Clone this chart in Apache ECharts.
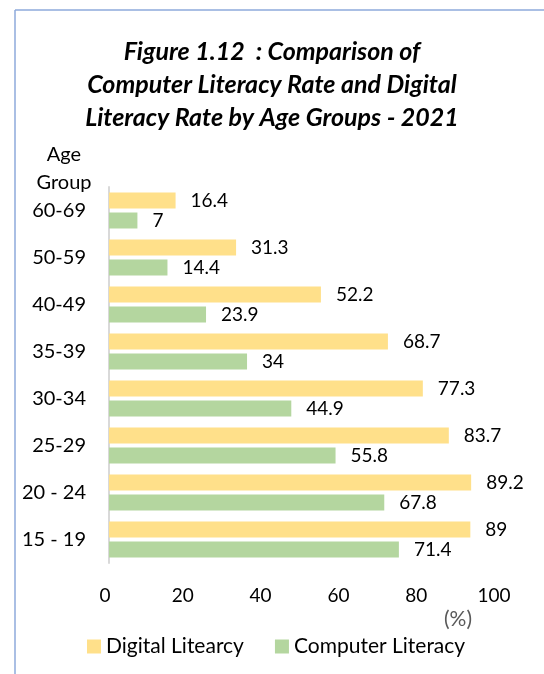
<!DOCTYPE html>
<html>
<head>
<meta charset="utf-8">
<script src="https://cdn.jsdelivr.net/npm/echarts@6/dist/echarts.min.js"></script>
<style>
  html, body { margin: 0; padding: 0; background: #fff; }
</style>
</head>
<body>
<div id="chart" style="width: 544px;height:674px;"></div>
<script>
// age groups, bottom to top
var ageGroups = ['15 - 19', '20 - 24', '25-29', '30-34', '35-39', '40-49', '50-59', '60-69'];
var digitalLiteracy = [89, 89.2, 83.7, 77.3, 68.7, 52.2, 31.3, 16.4];
var computerLiteracy = [71.4, 67.8, 55.8, 44.9, 34, 23.9, 14.4, 7];
var xTicks = [0, 20, 40, 60, 80, 100];

var font = 'Lato, "Noto Sans", sans-serif';
var myChart = echarts.init(document.getElementById('chart'));

myChart.setOption({
  textStyle: { fontFamily: font },
  title: {
    text: 'Figure 1.12  : Comparison of\nComputer Literacy Rate and Digital\nLiteracy Rate by Age Groups - 2021',
    left: 'center',
    top: 30,
    textStyle: {
      fontFamily: font,
      fontSize: 25,
      fontStyle: 'italic',
      fontWeight: 'bold',
      color: '#000',
      lineHeight: 33
    }
  },
  legend: {
    left: 82,
    top: 631,
    icon: 'rect',
    itemWidth: 14,
    itemHeight: 14,
    itemGap: 31,
    textStyle: { fontFamily: font, fontSize: 21, color: '#000' },
    data: ['Digital Litearcy', 'Computer Literacy']
  },
  grid: [
    { left: 109, right: 29, top: 187, bottom: 111 },
    // tick labels in the original sit on a slightly narrower span than the bars
    { left: 105, right: 50, top: 187, bottom: 111 }
  ],
  xAxis: [
    {
      type: 'value',
      gridIndex: 0,
      min: xTicks[0],
      max: xTicks[xTicks.length - 1],
      interval: 20,
      axisLine: { show: false },
      axisTick: { show: false },
      splitLine: { show: false },
      axisLabel: { show: false }
    },
    {
      type: 'value',
      gridIndex: 1,
      min: xTicks[0],
      max: xTicks[xTicks.length - 1],
      interval: 20,
      axisLine: { show: false },
      axisTick: { show: false },
      splitLine: { show: false },
      axisLabel: { fontFamily: font, fontSize: 19, color: '#000', margin: 23 }
    }
  ],
  yAxis: [
    {
      type: 'category',
      gridIndex: 0,
      data: ageGroups,
      name: 'Age\nGroup',
      nameLocation: 'end',
      nameGap: -10,
      nameTextStyle: {
        fontFamily: font,
        fontSize: 20,
        color: '#000',
        align: 'center',
        verticalAlign: 'bottom',
        lineHeight: 28,
        padding: [0, 90, 0, 0]
      },
      axisLine: { show: true, lineStyle: { color: '#d9d9d9', width: 2 } },
      axisTick: { show: false },
      axisLabel: { fontFamily: font, fontSize: 20, color: '#000', margin: 23 }
    },
    {
      type: 'category',
      gridIndex: 1,
      data: ageGroups,
      show: false
    }
  ],
  graphic: [
    { type: 'line', shape: { x1: 15, y1: 10, x2: 544, y2: 10 }, style: { stroke: '#8eaadb', lineWidth: 1.5 } },
    { type: 'line', shape: { x1: 15, y1: 10, x2: 15, y2: 674 }, style: { stroke: '#8eaadb', lineWidth: 1.5 } },
    { type: 'text', left: 444, top: 609, style: { text: '(%)', fontFamily: font, fontSize: 21, fill: '#595959' } }
  ],
  series: [
    {
      name: 'Digital Litearcy',
      type: 'bar',
      data: digitalLiteracy,
      barWidth: 16,
      barGap: '25%',
      itemStyle: { color: '#ffe08a' },
      label: { show: true, position: 'right', distance: 15, fontFamily: font, fontSize: 19, color: '#000' }
    },
    {
      name: 'Computer Literacy',
      type: 'bar',
      data: computerLiteracy,
      barWidth: 16,
      barGap: '25%',
      itemStyle: { color: '#b4d69f' },
      label: { show: true, position: 'right', distance: 15, fontFamily: font, fontSize: 19, color: '#000' }
    }
  ]
});
</script>
</body>
</html>
